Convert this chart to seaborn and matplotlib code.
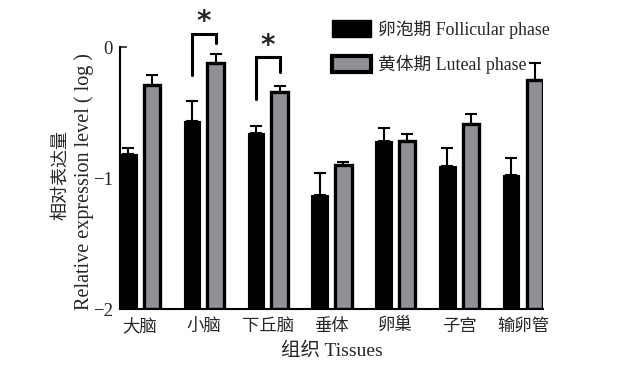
import numpy as np
import pandas as pd
import matplotlib
matplotlib.use("Agg")
import matplotlib.pyplot as plt
import seaborn as sns
from matplotlib.patches import Patch

tissues = ["大脑", "小脑", "下丘脑", "垂体", "卵巢", "子宫", "输卵管"]
phases = ["卵泡期 Follicular phase", "黄体期 Luteal phase"]
follicular = [-0.82, -0.565, -0.66, -1.13, -0.72, -0.91, -0.98]
luteal = [-0.29, -0.12, -0.34, -0.90, -0.715, -0.59, -0.25]
follicular_err = [0.05, 0.15, 0.06, 0.17, 0.10, 0.14, 0.13]
luteal_err = [0.08, 0.07, 0.04, 0.02, 0.05, 0.08, 0.13]
ytick_vals = [-2, -1, 0]
ytick_labels = ["−2", "−1", "0"]
base = -2

sns.set_theme(style="ticks")
plt.rcParams["font.family"] = ["Liberation Serif", "Noto Sans CJK SC", "DejaVu Sans"]
plt.rcParams["axes.unicode_minus"] = False

df = pd.DataFrame({
    "tissue": tissues * 2,
    "phase": [phases[0]] * len(tissues) + [phases[1]] * len(tissues),
    "height": [v - base for v in follicular] + [v - base for v in luteal],
})

fig = plt.figure(figsize=(6.25, 3.65), dpi=100)
ax = fig.add_axes([0.192, 0.1534, 0.677, 0.7178])

gray = "#909097"
sns.barplot(data=df, x="tissue", y="height", hue="phase", order=tissues,
            hue_order=phases, palette=["black", gray], width=0.74, gap=0.3,
            legend=False, ax=ax, saturation=1)

bar_conts = list(ax.containers)
errs = [follicular_err, luteal_err]
for ci, cont in enumerate(bar_conts):
    for bi, bar in enumerate(cont.patches):
        bar.set_edgecolor("black")
        bar.set_linewidth(2.4 if ci == 1 else 0.8)
        xc = bar.get_x() + bar.get_width() / 2
        top = bar.get_height()
        ax.errorbar([xc], [top], yerr=[[0], [errs[ci][bi]]], fmt="none",
                    ecolor="black", elinewidth=1.5, capsize=4, capthick=1.5,
                    clip_on=False, zorder=3)

# significance brackets
def bracket(i, y_left, y_right, y_top, y_star):
    b0 = bar_conts[0].patches[i]
    b1 = bar_conts[1].patches[i]
    xl = b0.get_x() + b0.get_width() / 2
    xr = b1.get_x() + b1.get_width() / 2
    ax.plot([xl, xl, xr, xr], [y_left, y_top, y_top, y_right], color="black",
            lw=2.2, clip_on=False, solid_joinstyle="miter")
    ax.text((xl + xr) / 2, y_star, "*", ha="center", va="center",
            fontsize=20, fontweight="bold", family="DejaVu Sans")

bracket(1, 1.79, 2.03, 2.10, 2.19)
bracket(2, 1.60, 1.81, 1.92, 2.01)

ax.set_ylim(0, 2)
ax.set_xlim(-0.315, 6.315)
ax.set_yticks([v - base for v in ytick_vals])
ax.set_yticklabels(ytick_labels, fontsize=13.5)
ax.tick_params(axis="y", direction="in", length=5, width=1.2, pad=5)
ax.tick_params(axis="x", length=0, pad=7, labelsize=12.5)
for s in ["top", "right"]:
    ax.spines[s].set_visible(False)
for s in ["left", "bottom"]:
    ax.spines[s].set_linewidth(1.5)
    ax.spines[s].set_color("black")

ax.set_xlabel("组织 Tissues", fontsize=14, labelpad=5)
ax.set_ylabel("")
fig.text(61 / 625, 1 - 175 / 365, "相对表达量", rotation=90, ha="center",
         va="center", fontsize=13)
fig.text(84 / 625, 1 - 182 / 365, "Relative expression level ( log )",
         rotation=90, ha="center", va="center", fontsize=14.5)

handles = [Patch(facecolor="black", edgecolor="black", lw=1),
           Patch(facecolor=gray, edgecolor="black", lw=3)]
fig.legend(handles, phases, loc="upper left", bbox_to_anchor=(0.52, 0.965),
           frameon=False, fontsize=12.8, handlelength=2.2, handleheight=1.05,
           handletextpad=0.4, labelspacing=0.9, borderaxespad=0)

fig.savefig("out.png", dpi=100)
